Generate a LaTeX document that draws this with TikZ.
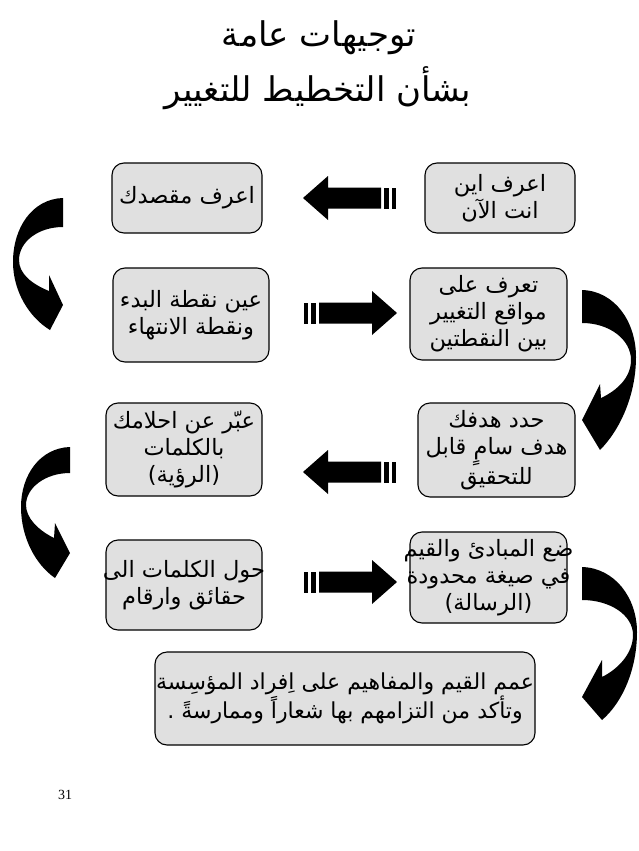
\documentclass[tikz,border=0pt]{standalone}
\usepackage{fontspec}
\TeXXeTstate=1
\newfontfamily\arabicfont[Script=Arabic]{DejaVu Sans}
\newfontfamily\numfont{Liberation Serif}
\newcommand{\AR}[1]{\beginR #1\endR}
\begin{document}
\begin{tikzpicture}[x=1pt,y=-1pt,
  box/.style={draw=black, line width=1.1pt, fill=black!12, rounded corners=12pt, inner sep=0pt},
  txt/.style={align=center, inner sep=0pt, font=\arabicfont\fontsize{22.5}{27}\selectfont},
  ttl/.style={font=\arabicfont\fontsize{34}{40}\selectfont, inner sep=0pt},
  rarrow/.pic={
    \fill (-46,-10.5) rectangle (-42,10.5);
    \fill (-39,-10.5) rectangle (-34,10.5);
    \fill (-31,-10.5) -- (22,-10.5) -- (22,-22) -- (47,0) -- (22,22) -- (22,10.5) -- (-31,10.5) -- cycle;
  },
  larrow/.pic={
    \fill (46,-10.5) rectangle (42,10.5);
    \fill (39,-10.5) rectangle (34,10.5);
    \fill (31,-10.5) -- (-22,-10.5) -- (-22,-22) -- (-47,0) -- (-22,22) -- (-22,10.5) -- (31,10.5) -- cycle;
  }]
\useasboundingbox (0,0) rectangle (638,851);
\fill[white] (0,0) rectangle (638,851);

% title
\node[ttl] (t1) at (319,38) {\AR{توجيهات عامة}};
\node[ttl] (t2) at (318,88) {\AR{بشأن التخطيط للتغيير}};

% boxes (fixed size)
\node[box, minimum width=150pt, minimum height=70pt] (b1) at (500,198) {};
\node[box, minimum width=150pt, minimum height=70pt] (b2) at (187,198) {};
\node[box, minimum width=156pt, minimum height=94pt] (b3) at (191,315) {};
\node[box, minimum width=157pt, minimum height=92pt] (b4) at (488.5,314) {};
\node[box, minimum width=157pt, minimum height=94pt] (b5) at (496.5,450) {};
\node[box, minimum width=156pt, minimum height=93pt] (b6) at (184,449.5) {};
\node[box, minimum width=156pt, minimum height=90pt] (b7) at (184,585) {};
\node[box, minimum width=157pt, minimum height=91pt] (b8) at (488.5,577.5) {};
\node[box, minimum width=380pt, minimum height=93pt] (b9) at (345,698.5) {};

% box texts
\node[txt] (b1t) at (b1) {\AR{اعرف اين}\\\AR{انت الآن}};
\node[txt] (b2t) at (b2) {\AR{اعرف مقصدك}};
\node[txt] (b3t) at (b3) {\AR{عين نقطة البدء}\\\AR{ونقطة الانتهاء}};
\node[txt] (b4t) at (b4) {\AR{تعرف على}\\\AR{مواقع التغيير}\\\AR{بين النقطتين}};
\node[txt] (b5t) at (b5) {\AR{حدد هدفك}\\\AR{هدف سامٍ قابل}\\\AR{للتحقيق}};
\node[txt] (b6t) at (b6) {\AR{عبّر عن احلامك}\\\AR{بالكلمات}\\\AR{(الرؤية)}};
\node[txt] (b7t) at (b7) {\AR{حول الكلمات الى}\\\AR{حقائق وارقام}};
\node[txt] (b8t) at (b8) {\AR{ضع المبادئ والقيم}\\\AR{في صيغة محدودة}\\\AR{(الرسالة)}};
\node[txt, font=\arabicfont\fontsize{22}{26}\selectfont] (b9t) at (b9) {\AR{عمم القيم والمفاهيم على اِفراد المؤسِسة}\\\AR{وتأكد من التزامهم بها شعاراً وممارسةً .}};

% straight block arrows
\pic at (350,198) {larrow};
\pic at (350,313) {rarrow};
\pic at (350,472) {larrow};
\pic at (350,582) {rarrow};

% curved block arrows
\fill (63,198) .. controls (32,199) and (13,228) .. (13,262) .. controls (13,292) and (30,318) .. (50,330) -- (63,305) -- (49,275) -- (49,291) .. controls (32,284) and (19,274) .. (19,260) .. controls (19,242) and (38,227) .. (63,227) -- cycle;
\fill (582,290) .. controls (615,291) and (636,322) .. (636,357) .. controls (636,395) and (620,430) .. (600,450) -- (582,420) -- (600,384) -- (601,398) .. controls (618,390) and (631,377) .. (631,360) .. controls (631,340) and (610,323) .. (582,323) -- cycle;
\fill (70,447) .. controls (40,448) and (21,475) .. (21,507) .. controls (21,538) and (36,565) .. (55,578) -- (70,553) -- (55,523) -- (54,538) .. controls (38,530) and (26,518) .. (26,505) .. controls (26,488) and (45,473) .. (70,473) -- cycle;
\fill (582,567) .. controls (615,568) and (637,598) .. (637,632) .. controls (637,670) and (622,703) .. (602,720) -- (582,697) -- (602,660) -- (602,677) .. controls (620,668) and (633,652) .. (633,635) .. controls (633,615) and (610,600) .. (582,600) -- cycle;

% page number
\node[font=\numfont\fontsize{14}{16}\selectfont, inner sep=0pt] (pg) at (65,795) {31};
\end{tikzpicture}
\end{document}
